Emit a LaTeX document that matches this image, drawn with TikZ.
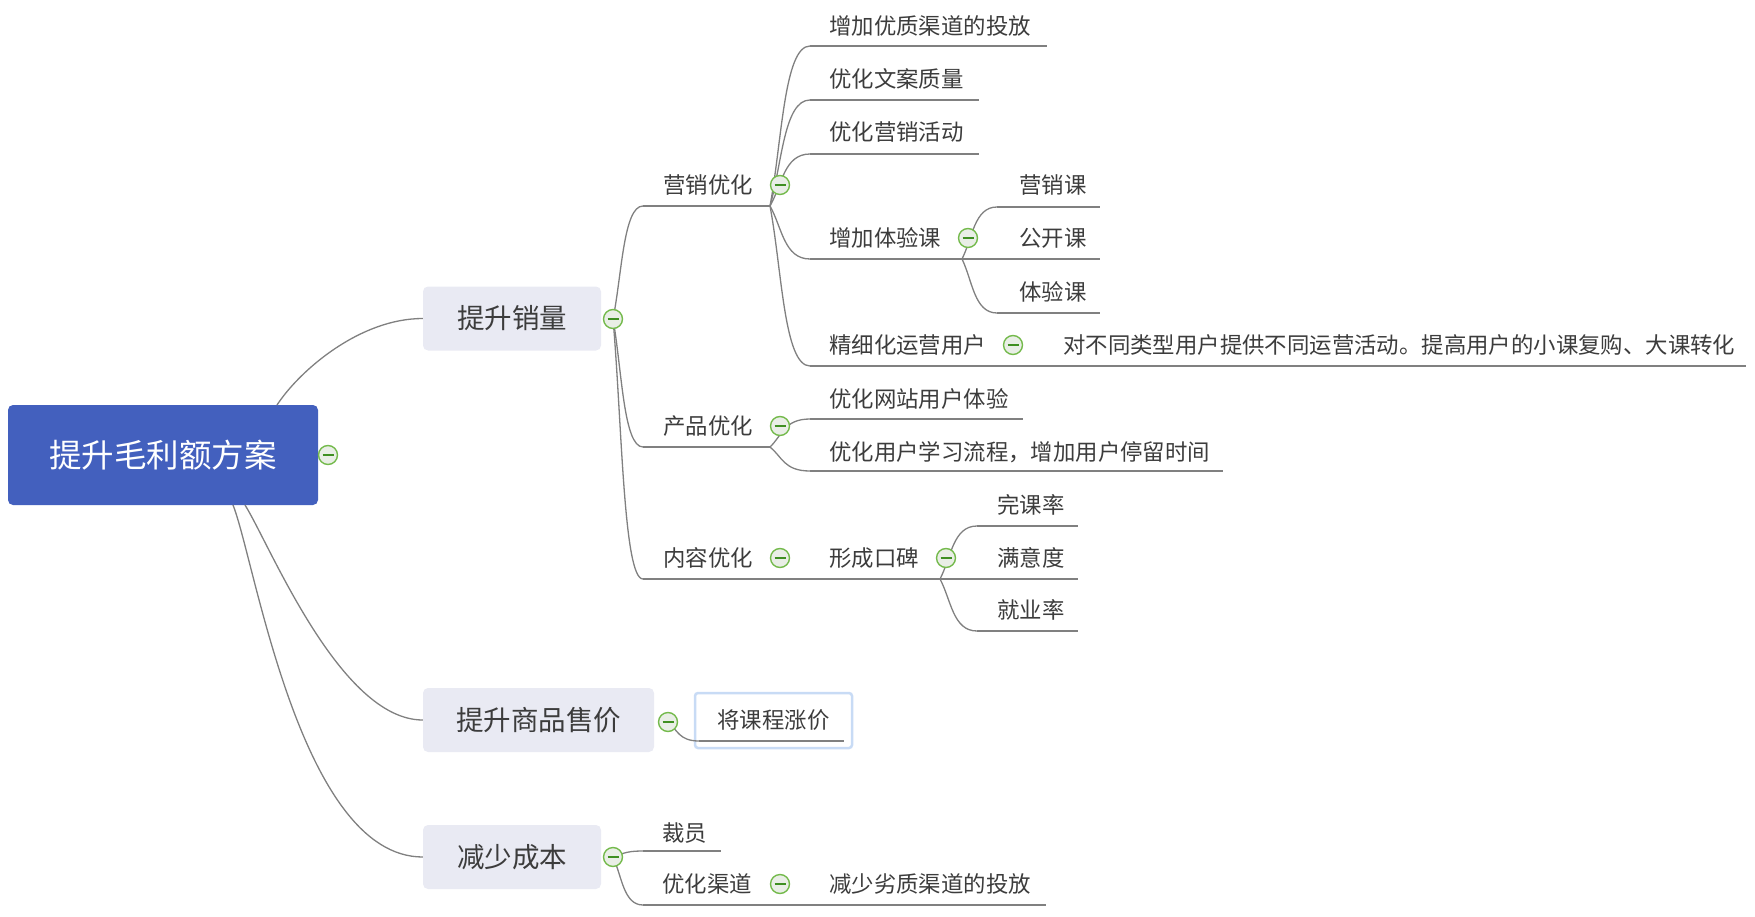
\documentclass[tikz,border=0pt]{standalone}
\usepackage{fontspec}
\setmainfont{Noto Sans CJK SC}
\usetikzlibrary{calc}
\definecolor{rootblue}{HTML}{4360BE}
\definecolor{lvone}{HTML}{E9EAF3}
\definecolor{txt}{HTML}{3C3C3C}
\definecolor{ln}{HTML}{808080}
\definecolor{cgreen}{HTML}{74BA4C}
\definecolor{cdark}{HTML}{3F8F22}
\definecolor{cfill}{HTML}{E9EEE6}
\definecolor{selblue}{HTML}{C8DBF5}
\newcommand\fsS{\fontsize{22.4}{26}\selectfont}
\newcommand\fsM{\fontsize{27.5}{32}\selectfont}
\newcommand\fsL{\fontsize{32.5}{38}\selectfont}
\begin{document}
\begin{tikzpicture}[x=1pt,y=-1pt,
  conn/.style={draw=ln, line width=1.3pt},
  uline/.style={draw=ln, line width=1.3pt},
  branch/.style={to path={let \p1=(\tikztostart), \p2=(\tikztotarget) in .. controls ({\x1+0.3*(\x2-\x1)},{\y1+0.4*(\y2-\y1)}) and ({\x1+0.35*(\x2-\x1)},\y2) .. (\tikztotarget)}},
  topic/.style={anchor=west, inner sep=0pt, text=txt, font=\fsS},
  rootbox/.style={fill=rootblue, rounded corners=5pt, minimum width=310pt, minimum height=100pt, text=white, font=\fsL, inner sep=0pt},
  mainbox/.style={fill=lvone, rounded corners=5pt, minimum height=64pt, text=txt, font=\fsM, inner sep=0pt},
  selbox/.style={draw=selblue, line width=2.5pt, rounded corners=3pt, minimum width=157pt, minimum height=55pt, text=txt, font=\fsS, inner sep=0pt},
  col/.style={circle, draw=cgreen, fill=cfill, line width=1.4pt, minimum size=19pt, inner sep=0pt,
    path picture={\draw[line width=1.7pt, cdark] ([xshift=-5.5pt]path picture bounding box.center) -- ([xshift=5.5pt]path picture bounding box.center);}}
]
\useasboundingbox (0,0) rectangle (1755,917);

% root and main topics
\node[rootbox] (root) at (163,455) {提升毛利额方案};
\node[mainbox, minimum width=178pt] (A) at (512,318.5) {提升销量};
\node[mainbox, minimum width=231pt] (B) at (538.5,720) {提升商品售价};
\node[mainbox, minimum width=178pt] (C) at (512,857) {减少成本};

% level 2 under A
\node[topic] (yx) at (663,185) {营销优化};
\coordinate (yxS) at (643,206); \coordinate (yxE) at (770,206);
\node[topic] (cp) at (663,426) {产品优化};
\coordinate (cpS) at (643,447); \coordinate (cpE) at (770,447);
\node[topic] (nr) at (663,558) {内容优化};
\coordinate (nrS) at (643,579); \coordinate (nrE) at (770,579);

% under 营销优化
\node[topic] (t1) at (829,26) {增加优质渠道的投放};
\coordinate (t1S) at (810,46); \coordinate (t1E) at (1047,46);
\node[topic] (t2) at (829,79) {优化文案质量};
\coordinate (t2S) at (810,100); \coordinate (t2E) at (979,100);
\node[topic] (t3) at (829,132) {优化营销活动};
\coordinate (t3S) at (810,154); \coordinate (t3E) at (979,154);
\node[topic] (t4) at (829,238) {增加体验课};
\coordinate (t4S) at (810,259); \coordinate (t4E) at (962,259);
\node[topic] (t5) at (829,345) {精细化运营用户};
\coordinate (t5S) at (810,366); \coordinate (t5E) at (1000,366);
\node[topic] (t5a) at (1063,345) {对不同类型用户提供不同运营活动。提高用户的小课复购、大课转化};
\coordinate (t5aS) at (1050,366); \coordinate (t5aE) at (1746,366);

% under 增加体验课
\node[topic] (u1) at (1019,185) {营销课};
\coordinate (u1S) at (997,207); \coordinate (u1E) at (1100,207);
\node[topic] (u2) at (1019,238) {公开课};
\coordinate (u2S) at (997,259); \coordinate (u2E) at (1100,259);
\node[topic] (u3) at (1019,292) {体验课};
\coordinate (u3S) at (997,313); \coordinate (u3E) at (1100,313);

% under 产品优化
\node[topic] (p1) at (829,399) {优化网站用户体验};
\coordinate (p1S) at (810,419); \coordinate (p1E) at (1023,419);
\node[topic] (p2) at (829,452) {优化用户学习流程，增加用户停留时间};
\coordinate (p2S) at (810,471); \coordinate (p2E) at (1223,471);

% under 内容优化
\node[topic] (n1) at (829,558) {形成口碑};
\coordinate (n1S) at (810,579); \coordinate (n1E) at (940,579);
\node[topic] (m1) at (997,505) {完课率};
\coordinate (m1S) at (977,526); \coordinate (m1E) at (1078,526);
\node[topic] (m2) at (997,558) {满意度};
\coordinate (m2S) at (977,579); \coordinate (m2E) at (1078,579);
\node[topic] (m3) at (997,610) {就业率};
\coordinate (m3S) at (977,631); \coordinate (m3E) at (1078,631);

% under B
\node[selbox] (s1) at (773.5,720.5) {将课程涨价};
\coordinate (s1S) at (699,741); \coordinate (s1E) at (844,741);

% under C
\node[topic] (c1) at (662,833) {裁员};
\coordinate (c1S) at (643,851); \coordinate (c1E) at (721,851);
\node[topic] (c2) at (662,884) {优化渠道};
\coordinate (c2S) at (643,905); \coordinate (c2E) at (770,905);
\node[topic] (c2a) at (829,884) {减少劣质渠道的投放};
\coordinate (c2aS) at (810,905); \coordinate (c2aE) at (1046,905);

% collapse markers positions
\coordinate (kR) at (328,455);
\coordinate (kA) at (613,319);
\coordinate (kB) at (668,722);
\coordinate (kC) at (613,857);

% root connectors
\coordinate (r1) at (277,405);
\coordinate (r2) at (245,505);
\coordinate (r3) at (233,505);
\draw[conn] (r1) .. controls (300,370) and (360,318.5) .. (A.west);
\draw[conn] (r2) .. controls (270,545) and (340,720) .. (B.west);
\draw[conn] (r3) .. controls (255,560) and (300,857) .. (C.west);

% connectors
\draw[conn] (kA) to[branch] (yxS);
\draw[conn] (kA) to[branch] (cpS);
\draw[conn] (kA) to[branch] (nrS);
\foreach \t in {t1,t2,t3,t4,t5} \draw[conn] (yxE) to[branch] (\t S);
\foreach \t in {u1,u2,u3} \draw[conn] (t4E) to[branch] (\t S);
\draw[conn] (t5E) -- (t5aS);
\foreach \t in {p1,p2} \draw[conn] (cpE) to[branch] (\t S);
\draw[conn] (nrE) -- (n1S);
\foreach \t in {m1,m2,m3} \draw[conn] (n1E) to[branch] (\t S);
\draw[conn] (kB) to[branch] (s1S);
\draw[conn] (kC) to[branch] (c1S);
\draw[conn] (kC) to[branch] (c2S);
\draw[conn] (c2E) -- (c2aS);

% underlines
\foreach \t in {yx,cp,nr,t1,t2,t3,t4,t5,t5a,u1,u2,u3,p1,p2,n1,m1,m2,m3,s1,c1,c2,c2a}
  \draw[uline] (\t S) -- (\t E);

% collapse markers
\node[col] (cR) at (kR) {};
\node[col] (cA) at (kA) {};
\node[col] (cB) at (kB) {};
\node[col] (cC) at (kC) {};
\node[col] (cyx) at (780,185) {};
\node[col] (ccp) at (780,426) {};
\node[col] (cnr) at (780,558) {};
\node[col] (ct4) at (968,238) {};
\node[col] (ct5) at (1013,345) {};
\node[col] (cn1) at (946,558) {};
\node[col] (cc2) at (780,884) {};
\end{tikzpicture}
\end{document}
